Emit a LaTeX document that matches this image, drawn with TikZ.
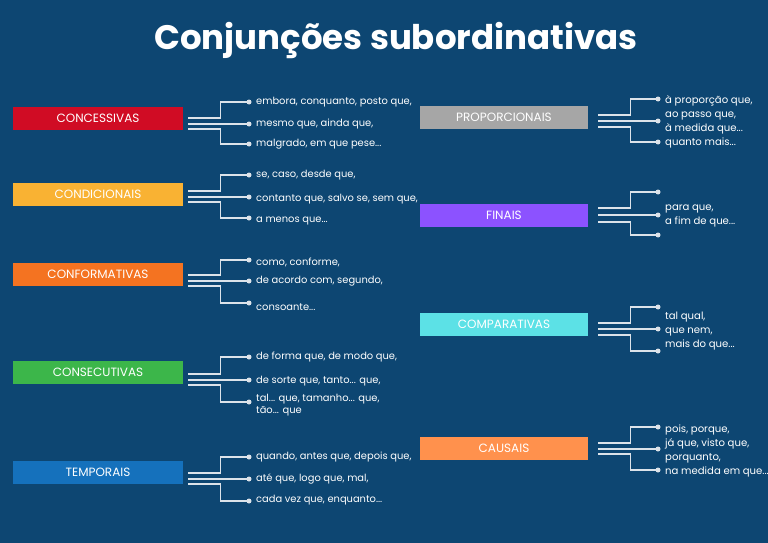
\documentclass[tikz,border=0pt]{standalone}
\usepackage{fontspec}
\setmainfont{Poppins}
\usetikzlibrary{positioning}
\definecolor{fundo}{HTML}{0D4672}
\definecolor{linha}{HTML}{DCE3EA}
\definecolor{cconcess}{HTML}{D00C24}
\definecolor{ccondic}{HTML}{F9B233}
\definecolor{cconform}{HTML}{F47321}
\definecolor{cconsec}{HTML}{3CB64A}
\definecolor{ctempor}{HTML}{1571BC}
\definecolor{cpropor}{HTML}{A6A6A6}
\definecolor{cfinais}{HTML}{8C52FF}
\definecolor{ccompar}{HTML}{5CE1E6}
\definecolor{ccausais}{HTML}{FF914D}
\begin{document}
\begin{tikzpicture}[x=1pt, y=-1pt, every node/.style={text=white}]
\tikzset{etiqueta/.style={minimum width=170pt,minimum height=23pt,inner sep=0pt,font=\fontsize{12}{14}\selectfont},
  ramo/.style={draw=linha,line width=1.4pt},
  ponto/.style={fill=linha},
  item/.style={right=7pt,inner sep=0pt,align=left,font=\fontsize{9.9}{13.8}\selectfont},
  bloco/.style={item,font=\fontsize{10.1}{14}\selectfont}}
\useasboundingbox (0,0) rectangle (768,543);
\fill[fundo] (0,0) rectangle (768,543);
\node[font=\bfseries\fontsize{34}{38}\selectfont] (titulo) at (396,40) {Conjunções subordinativas};
% left column
\node[etiqueta,fill=cconcess] (concess) at (98,118.5) {CONCESSIVAS};
\coordinate (concess-a) at (249,102);
\coordinate (concess-b) at (249,124);
\coordinate (concess-c) at (249,144);
\draw[ramo] ([shift={(5,-6)}]concess.east |- concess-b) -- ++(32,0) |- (concess-a);
\draw[ramo] ([shift={(5,0)}]concess.east |- concess-b) -- (concess-b);
\draw[ramo] ([shift={(5,5)}]concess.east |- concess-b) -- ++(32,0) |- (concess-c);
\node[item] (concess-ta) at (concess-a) {embora, conquanto, posto que,};
\node[item] (concess-tb) at (concess-b) {mesmo que, ainda que,};
\node[item] (concess-tc) at (concess-c) {malgrado, em que pese...};
%
\node[etiqueta,fill=ccondic] (condic) at (98,194.5) {CONDICIONAIS};
\coordinate (condic-a) at (249,175);
\coordinate (condic-b) at (249,197);
\coordinate (condic-c) at (249,218);
\draw[ramo] ([shift={(5,-6)}]condic.east |- condic-b) -- ++(32,0) |- (condic-a);
\draw[ramo] ([shift={(5,0)}]condic.east |- condic-b) -- (condic-b);
\draw[ramo] ([shift={(5,5)}]condic.east |- condic-b) -- ++(32,0) |- (condic-c);
\node[item] (condic-ta) at (condic-a) {se, caso, desde que,};
\node[item] (condic-tb) at ([yshift=-2]condic-b) {contanto que, salvo se, sem que,};
\node[item] (condic-tc) at ([yshift=-3]condic-c) {a menos que...};
%
\node[etiqueta,fill=cconform] (conform) at (98,274.5) {CONFORMATIVAS};
\coordinate (conform-a) at (249,260);
\coordinate (conform-b) at (249,281);
\coordinate (conform-c) at (249,303);
\draw[ramo] ([shift={(5,-6)}]conform.east |- conform-b) -- ++(32,0) |- (conform-a);
\draw[ramo] ([shift={(5,0)}]conform.east |- conform-b) -- (conform-b);
\draw[ramo] ([shift={(5,5)}]conform.east |- conform-b) -- ++(32,0) |- (conform-c);
\node[item] (conform-ta) at ([yshift=-2]conform-a) {como, conforme,};
\node[item] (conform-tb) at (conform-b) {de acordo com, segundo,};
\node[item] (conform-tc) at ([yshift=-4]conform-c) {consoante...};
%
\node[etiqueta,fill=cconsec] (consec) at (98,372) {CONSECUTIVAS};
\coordinate (consec-a) at (249,357);
\coordinate (consec-b) at (249,380);
\coordinate (consec-c) at (249,402);
\draw[ramo] ([shift={(5,-6)}]consec.east |- consec-b) -- ++(32,0) |- (consec-a);
\draw[ramo] ([shift={(5,0)}]consec.east |- consec-b) -- (consec-b);
\draw[ramo] ([shift={(5,5)}]consec.east |- consec-b) -- ++(32,0) |- (consec-c);
\node[item] (consec-ta) at (consec-a) {de forma que, de modo que,};
\node[item] (consec-tb) at ([yshift=-1]consec-b) {de sorte que, tanto... que,};
\node[item,font=\fontsize{9.9}{12}\selectfont] (consec-tc) at ([yshift=-3]consec-c) {tal... que, tamanho... que,\\tão... que};
%
\node[etiqueta,fill=ctempor] (tempor) at (98,472.5) {TEMPORAIS};
\coordinate (tempor-a) at (249,457);
\coordinate (tempor-b) at (249,479);
\coordinate (tempor-c) at (249,501);
\draw[ramo] ([shift={(5,-6)}]tempor.east |- tempor-b) -- ++(32,0) |- (tempor-a);
\draw[ramo] ([shift={(5,0)}]tempor.east |- tempor-b) -- (tempor-b);
\draw[ramo] ([shift={(5,5)}]tempor.east |- tempor-b) -- ++(32,0) |- (tempor-c);
\node[item] (tempor-ta) at (tempor-a) {quando, antes que, depois que,};
\node[item] (tempor-tb) at (tempor-b) {até que, logo que, mal,};
\node[item] (tempor-tc) at ([yshift=1]tempor-c) {cada vez que, enquanto...};
% right column
\node[etiqueta,fill=cpropor,minimum width=168pt] (propor) at (504,117.5) {PROPORCIONAIS};
\coordinate (propor-a) at (658,99);
\coordinate (propor-b) at (658,121);
\coordinate (propor-c) at (658,142);
\draw[ramo] ([shift={(10,-6)}]propor.east |- propor-b) -- ++(32,0) |- (propor-a);
\draw[ramo] ([shift={(10,0)}]propor.east |- propor-b) -- (propor-b);
\draw[ramo] ([shift={(10,6)}]propor.east |- propor-b) -- ++(32,0) |- (propor-c);
\node[bloco] (propor-t) at ([yshift=-1]propor-b) {à proporção que,\\ao passo que,\\à medida que...\\quanto mais...};
%
\node[etiqueta,fill=cfinais,minimum width=168pt] (finais) at (504,215) {FINAIS};
\coordinate (finais-a) at (658,192);
\coordinate (finais-b) at (658,215);
\coordinate (finais-c) at (658,235);
\draw[ramo] ([shift={(10,-7)}]finais.east |- finais-b) -- ++(32,0) |- (finais-a);
\draw[ramo] ([shift={(10,0)}]finais.east |- finais-b) -- (finais-b);
\draw[ramo] ([shift={(10,7)}]finais.east |- finais-b) -- ++(32,0) |- (finais-c);
\node[bloco] (finais-t) at ([yshift=-1]finais-b) {para que,\\a fim de que...};
%
\node[etiqueta,fill=ccompar,minimum width=168pt] (compar) at (504,324.5) {COMPARATIVAS};
\coordinate (compar-a) at (658,307);
\coordinate (compar-b) at (658,329);
\coordinate (compar-c) at (658,351);
\draw[ramo] ([shift={(10,-6)}]compar.east |- compar-b) -- ++(32,0) |- (compar-a);
\draw[ramo] ([shift={(10,0)}]compar.east |- compar-b) -- (compar-b);
\draw[ramo] ([shift={(10,6)}]compar.east |- compar-b) -- ++(32,0) |- (compar-c);
\node[bloco] (compar-t) at ([yshift=-2]compar-b) {tal qual,\\que nem,\\mais do que...};
%
\node[etiqueta,fill=ccausais,minimum width=168pt] (causais) at (504,448) {CAUSAIS};
\coordinate (causais-a) at (658,427);
\coordinate (causais-b) at (658,449);
\coordinate (causais-c) at (658,470);
\draw[ramo] ([shift={(10,-6)}]causais.east |- causais-b) -- ++(32,0) |- (causais-a);
\draw[ramo] ([shift={(10,0)}]causais.east |- causais-b) -- (causais-b);
\draw[ramo] ([shift={(10,5)}]causais.east |- causais-b) -- ++(32,0) |- (causais-c);
\node[bloco] (causais-t) at ([yshift=-2]causais-b) {pois, porque,\\já que, visto que,\\porquanto,\\na medida em que...};
% dots at the branch ends
\fill[ponto] (concess-a) circle (2.5pt) (concess-b) circle (2.5pt) (concess-c) circle (2.5pt);
\fill[ponto] (condic-a) circle (2.5pt) (condic-b) circle (2.5pt) (condic-c) circle (2.5pt);
\fill[ponto] (conform-a) circle (2.5pt) (conform-b) circle (2.5pt) (conform-c) circle (2.5pt);
\fill[ponto] (consec-a) circle (2.5pt) (consec-b) circle (2.5pt) (consec-c) circle (2.5pt);
\fill[ponto] (tempor-a) circle (2.5pt) (tempor-b) circle (2.5pt) (tempor-c) circle (2.5pt);
\fill[ponto] (propor-a) circle (2.5pt) (propor-b) circle (2.5pt) (propor-c) circle (2.5pt);
\fill[ponto] (finais-a) circle (2.5pt) (finais-b) circle (2.5pt) (finais-c) circle (2.5pt);
\fill[ponto] (compar-a) circle (2.5pt) (compar-b) circle (2.5pt) (compar-c) circle (2.5pt);
\fill[ponto] (causais-a) circle (2.5pt) (causais-b) circle (2.5pt) (causais-c) circle (2.5pt);
\end{tikzpicture}
\end{document}
